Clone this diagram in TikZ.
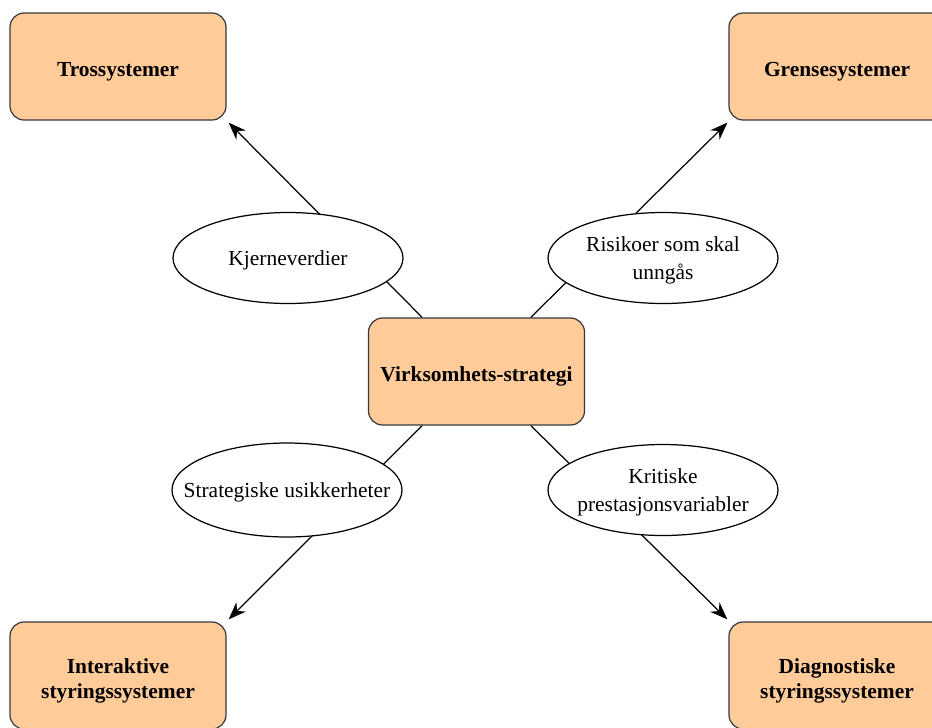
\documentclass[tikz,border=0pt]{standalone}
\usepackage{fontspec}
\setmainfont{Liberation Serif}
\usetikzlibrary{arrows.meta,calc,backgrounds,shapes.geometric}
\definecolor{boxfill}{HTML}{FFCC99}
\definecolor{boxline}{HTML}{36393D}
\newcommand{\boxtext}[1]{\raisebox{-3pt}[\height][\depth]{\begin{tabular}{@{}c@{}}#1\end{tabular}}}
\newcommand{\ovaltext}[1]{\raisebox{-1.2pt}[\height][\depth]{\begin{tabular}{@{}c@{}}#1\end{tabular}}}
\begin{document}
\begin{tikzpicture}[x=0.02cm,y=-0.02cm,
  sysbox/.style={draw=boxline,fill=boxfill,line width=0.7pt,rounded corners=8pt,
    minimum width=216*0.02cm,minimum height=107*0.02cm,align=center,
    font=\fontsize{12.2}{14.6}\selectfont\bfseries,inner sep=2pt},
  oval/.style={draw=black,fill=white,ellipse,line width=0.7pt,
    minimum width=230*0.02cm,minimum height=91*0.02cm,align=center,
    font=\fontsize{12.2}{15.5}\selectfont,inner ysep=0pt,inner xsep=-0.5cm},
  link/.style={draw=black,line width=0.7pt},
  arrow/.style={link,-{Stealth[length=10pt,width=7.5pt]}}]
\useasboundingbox (0,0) rectangle (932,727);
\begin{scope}
\clip (0,0) rectangle (932,727);
\node[sysbox] (tros) at (118,66.5) {\boxtext{Trossystemer}};
\node[sysbox] (grense) at (837,66.5) {\boxtext{Grensesystemer}};
\node[sysbox] (vs) at (476.5,371.5) {\boxtext{Virksomhets-strategi}};
\node[sysbox] (inter) at (118,675.5) {\boxtext{Interaktive\\styringssystemer}};
\node[sysbox] (diag) at (837,675.5) {\boxtext{Diagnostiske\\styringssystemer}};
\node[oval] (kjerne) at (288,258) {\ovaltext{Kjerneverdier}};
\node[oval] (risiko) at (663,258) {\ovaltext{Risikoer som skal\\unngås}};
\node[oval,minimum height=94*0.02cm] (strat) at (287,490) {\ovaltext{Strategiske usikkerheter}};
\node[oval] (krit) at (663,490) {\ovaltext{Kritiske\\prestasjonsvariabler}};
\begin{scope}[on background layer]
\draw[arrow] ($(vs.north west)!0.25!(vs.north east)$) -- ($(tros.south east)+(2,2)$);
\draw[arrow] ($(vs.north west)!0.75!(vs.north east)$) -- ($(grense.south west)+(-1,2)$);
\draw[arrow] ($(vs.south west)!0.25!(vs.south east)$) -- ($(inter.north east)+(2,-2)$);
\draw[arrow] ($(vs.south west)!0.75!(vs.south east)$) -- ($(diag.north west)+(-1,-2)$);
\end{scope}
\end{scope}
\end{tikzpicture}
\end{document}
